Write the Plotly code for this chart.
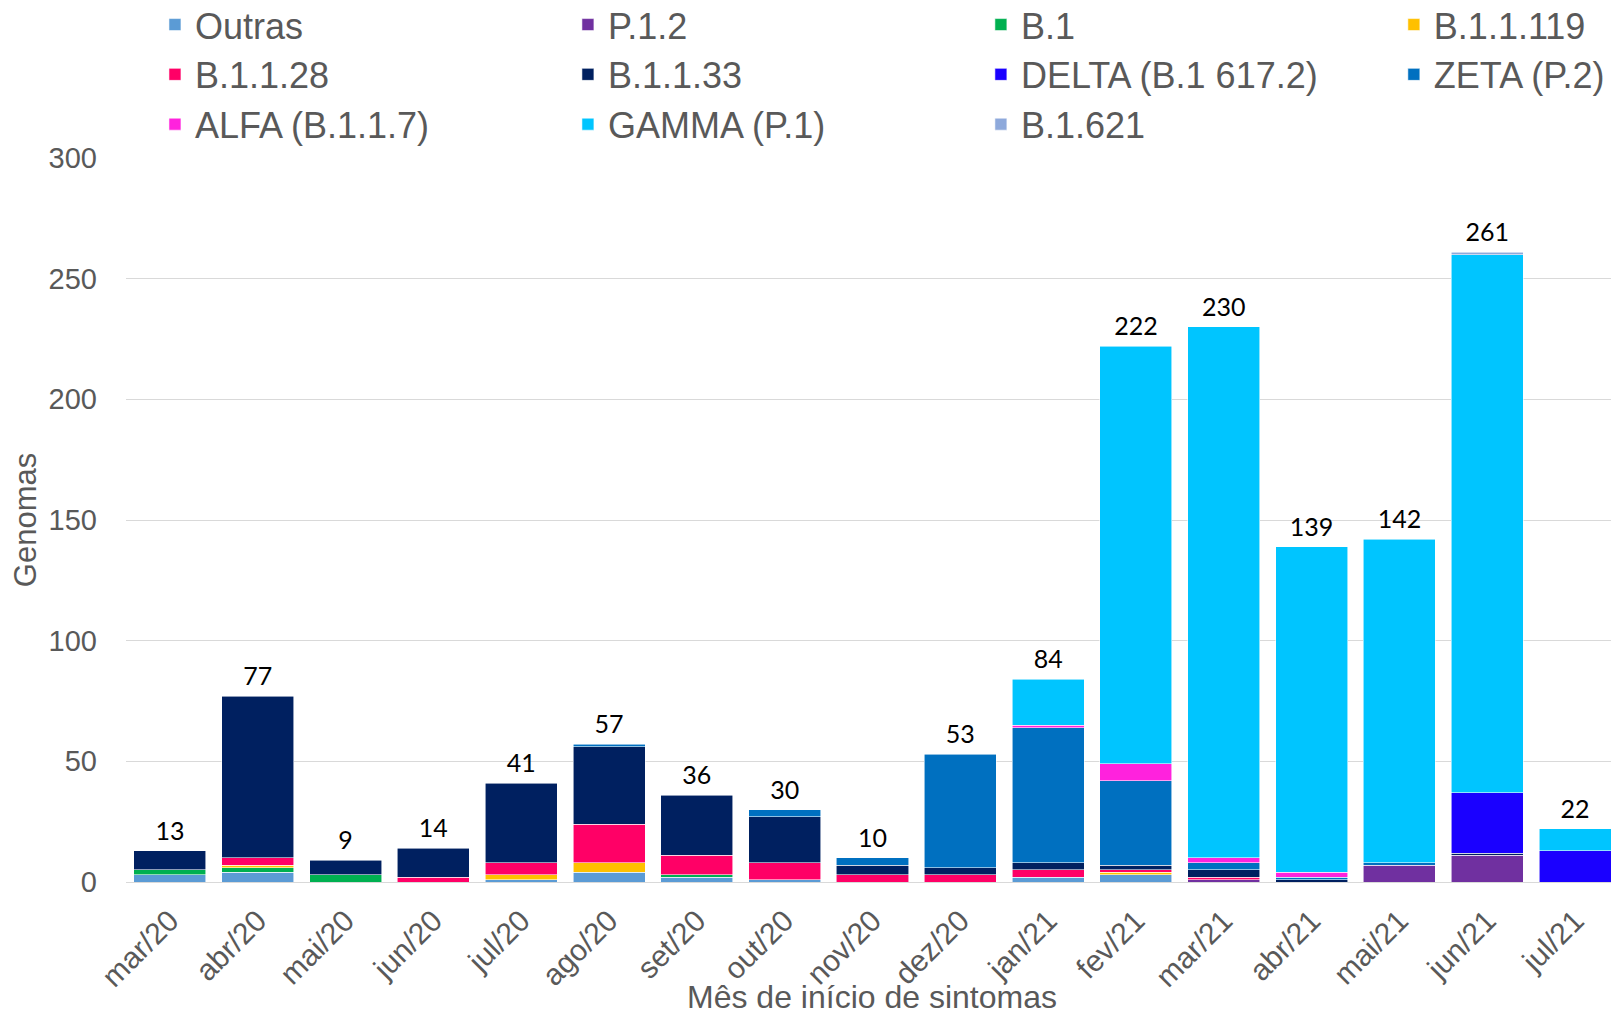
import plotly.graph_objects as go
import numpy as np

months = ["mar/20", "abr/20", "mai/20", "jun/20", "jul/20", "ago/20", "set/20", "out/20",
          "nov/20", "dez/20", "jan/21", "fev/21", "mar/21", "abr/21", "mai/21", "jun/21", "jul/21"]

outras    = [3, 4, 0, 0, 1, 4, 2, 1, 0, 0, 2, 3, 0, 0, 0, 0, 0]
p_1_2     = [0, 0, 0, 0, 0, 0, 0, 0, 0, 0, 0, 0, 1, 0, 7, 11, 0]
b_1       = [2, 2, 3, 0, 0, 0, 1, 0, 0, 0, 0, 0, 0, 0, 0, 0, 0]
b_1_1_119 = [0, 1, 0, 0, 2, 4, 0, 0, 0, 0, 0, 1, 0, 0, 0, 0, 0]
b_1_1_28  = [0, 3, 0, 2, 5, 16, 8, 7, 3, 3, 3, 1, 1, 0, 0, 0, 0]
b_1_1_33  = [8, 67, 6, 12, 33, 32, 25, 19, 4, 3, 3, 2, 3, 1, 0, 1, 0]
delta     = [0, 0, 0, 0, 0, 0, 0, 0, 0, 0, 0, 0, 0, 0, 0, 25, 13]
zeta      = [0, 0, 0, 0, 0, 1, 0, 3, 3, 47, 56, 35, 3, 1, 1, 0, 0]
alfa      = [0, 0, 0, 0, 0, 0, 0, 0, 0, 0, 1, 7, 2, 2, 0, 0, 0]
gamma     = [0, 0, 0, 0, 0, 0, 0, 0, 0, 0, 19, 173, 220, 135, 134, 223, 9]
b_1_621   = [0, 0, 0, 0, 0, 0, 0, 0, 0, 0, 0, 0, 0, 0, 0, 1, 0]

series_names = ["Outras", "P.1.2", "B.1", "B.1.1.119", "B.1.1.28", "B.1.1.33",
                "DELTA (B.1 617.2)", "ZETA (P.2)", "ALFA (B.1.1.7)", "GAMMA (P.1)", "B.1.621"]
series_values = [outras, p_1_2, b_1, b_1_1_119, b_1_1_28, b_1_1_33,
                 delta, zeta, alfa, gamma, b_1_621]
series_colors = ["#5B9BD5", "#7030A0", "#00B050", "#FFC000", "#FF0066", "#002060",
                 "#1A00FF", "#0070C0", "#FF22DD", "#00C5FF", "#8EA9DB"]

legend_ids = ["legend", "legend2", "legend3", "legend4"]

fig = go.Figure()
for i, (name, vals, color) in enumerate(zip(series_names, series_values, series_colors)):
    fig.add_trace(go.Bar(
        x=months, y=[v if v else None for v in vals], name=name,
        marker=dict(color=color, line=dict(color="rgba(255,255,255,0.8)", width=0.7)),
        legend=legend_ids[i % 4], legendgroup=name,
    ))

totals = np.sum(np.array(series_values), axis=0)
fig.add_trace(go.Scatter(
    x=months, y=totals, mode="markers+text", text=[str(int(t)) for t in totals],
    marker=dict(size=6, opacity=0),
    textposition="top center", textfont=dict(family="Lato", size=25, color="black"),
    showlegend=False, cliponaxis=False, hoverinfo="skip",
))

gray = "#595959"
legend_common = dict(orientation="v", xanchor="left", yanchor="top", yref="paper",
                     y=1.2256, font=dict(family="Liberation Sans, Arial", size=36, color=gray),
                     bgcolor="rgba(0,0,0,0)", tracegroupgap=0, traceorder="normal")
col_x = [0.0194, 0.296, 0.5726, 0.8492]

fig.update_layout(
    width=1611, height=1008,
    barmode="stack", bargap=0.18,
    plot_bgcolor="white", paper_bgcolor="white",
    margin=dict(l=118, r=0, t=150, b=134, autoexpand=False),
    font=dict(family="Liberation Sans, Arial", color=gray),
    legend=dict(x=col_x[0], **legend_common),
    legend2=dict(x=col_x[1], **legend_common),
    legend3=dict(x=col_x[2], **legend_common),
    legend4=dict(x=col_x[3], **legend_common),
    xaxis=dict(tickangle=-45, tickfont=dict(size=30, color=gray), showgrid=False,
               showline=False, ticks="", range=[-0.5, len(months) - 0.5],
               ticklabelstandoff=14),
    yaxis=dict(range=[0, 300], dtick=50, gridcolor="#D9D9D9", gridwidth=1.3,
               zeroline=True, zerolinecolor="#D9D9D9", zerolinewidth=1.3,
               tickfont=dict(size=29, color=gray), ticklabelstandoff=28,
               title=dict(text="Genomas", font=dict(size=31, color=gray), standoff=2)),
    annotations=[dict(text="Mês de início de sintomas", xref="paper", yref="paper",
                      x=0.4997, y=-0.159, xanchor="center", yanchor="middle",
                      showarrow=False, font=dict(size=32, color=gray))],
)

fig.write_html("out.html")
